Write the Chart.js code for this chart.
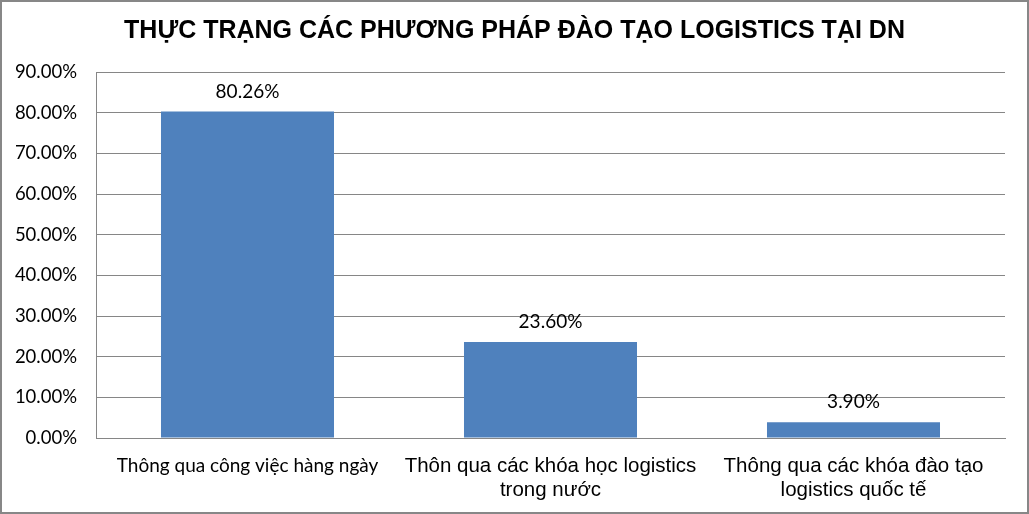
<!DOCTYPE html>
<html>
<head>
<meta charset="utf-8">
<script src="https://cdn.jsdelivr.net/npm/chart.js@4"></script>
<style>
  html, body { margin: 0; padding: 0; background: #ffffff; }
  #wrap { width: 1029px; height: 514px; position: relative; }
</style>
</head>
<body>
<div id="wrap"><canvas id="c"></canvas></div>
<script>
const chartTitle = 'THỰC TRẠNG CÁC PHƯƠNG PHÁP ĐÀO TẠO LOGISTICS TẠI DN';
const categories = [
  ['Thông qua công việc hàng ngày'],
  ['Thôn qua các khóa học logistics', 'trong nước'],
  ['Thông qua các khóa đào tạo', 'logistics quốc tế']
];
const values = [80.26, 23.60, 3.90];
const yMin = 0;
const yMax = 90;
const yStep = 10;

const frameAndLabels = {
  id: 'frameAndLabels',
  beforeDraw(chart) {
    const ctx = chart.ctx;
    ctx.save();
    ctx.fillStyle = '#ffffff';
    ctx.fillRect(0, 0, chart.width, chart.height);
    ctx.restore();
  },
  afterDraw(chart) {
    const ctx = chart.ctx;
    ctx.save();
    ctx.strokeStyle = '#878787';
    ctx.lineWidth = 2;
    ctx.strokeRect(1, 1, chart.width - 2, chart.height - 2);
    // title
    ctx.fillStyle = '#000000';
    ctx.font = 'bold 25px "Liberation Sans", Arial, sans-serif';
    ctx.textAlign = 'center';
    ctx.textBaseline = 'middle';
    ctx.fillText(chartTitle, chart.width / 2, 31);
    // data labels
    const meta = chart.getDatasetMeta(0);
    ctx.font = '19px Lato, Carlito, "Open Sans", sans-serif';
    meta.data.forEach((bar, i) => {
      const v = chart.data.datasets[0].data[i];
      ctx.fillText(v.toFixed(2) + '%', bar.x, bar.y - 20);
    });
    ctx.restore();
  }
};

new Chart(document.getElementById('c'), {
  type: 'bar',
  data: {
    labels: categories,
    datasets: [{
      data: values,
      backgroundColor: '#4F81BD',
      borderWidth: 0,
      categoryPercentage: 1.0,
      barPercentage: 0.571
    }]
  },
  options: {
    responsive: true,
    maintainAspectRatio: false,
    animation: false,
    devicePixelRatio: 1,
    layout: { padding: { left: 0, right: 24, top: 72, bottom: 0 } },
    plugins: {
      legend: { display: false },
      tooltip: { enabled: false },
      title: { display: false }
    },
    scales: {
      y: {
        min: yMin,
        max: yMax,
        ticks: {
          stepSize: yStep,
          padding: 19,
          color: '#000000',
          font: { family: 'Lato, Carlito, "Open Sans", sans-serif', size: 18.5 },
          callback: (v) => v.toFixed(2) + '%'
        },
        grid: { color: '#868686', lineWidth: 1, drawTicks: false },
        border: { display: true, color: '#868686', width: 1 },
        afterFit: (scale) => { scale.width = 96; }
      },
      x: {
        ticks: {
          padding: 16,
          color: '#000000',
          maxRotation: 0,
          autoSkip: false,
          font: (ctx) => ctx.index === 0
            ? { family: 'Lato, Carlito, "Open Sans", sans-serif', size: 19, lineHeight: 24 / 19 }
            : { family: '"Liberation Sans", Arial, sans-serif', size: 20.5, lineHeight: 24 / 20.5 }
        },
        grid: { display: false, drawTicks: false },
        border: { display: true, color: '#868686', width: 1 },
        afterFit: (scale) => { scale.height = 76; }
      }
    }
  },
  plugins: [frameAndLabels]
});
</script>
</body>
</html>
